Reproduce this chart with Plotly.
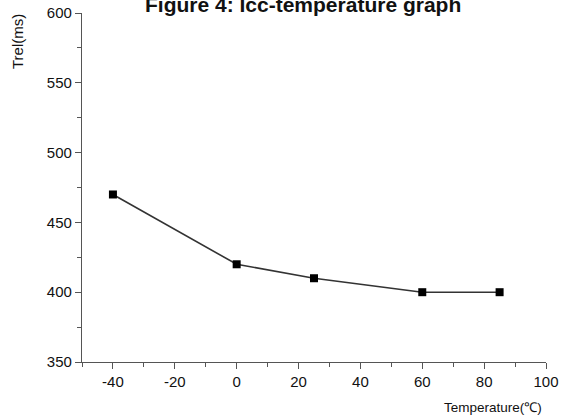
import plotly.graph_objects as go

temps = [-40, 0, 25, 60, 85]
trel = [470, 420, 410, 400, 400]
x_ticks = [-40, -20, 0, 20, 40, 60, 80, 100]
x_tick_labels = ["-40", "-20", "0", "20", "40", "60", "80", "100"]
y_ticks = [350, 400, 450, 500, 550, 600]

W, H = 567, 420
L, R, T, B = 82, 21, 13, 58
PW, PH = W - L - R, H - T - B


def px(x):
    return (x - L) / PW


def py(y):
    return (H - B - y) / PH


fig = go.Figure()
fig.add_trace(go.Scatter(
    x=temps, y=trel, mode="lines+markers",
    line=dict(color="#333333", width=1.6),
    marker=dict(symbol="square", size=8, color="black"),
    showlegend=False,
))

axis_common = dict(
    showgrid=False, zeroline=False, showline=True, linecolor="#555555", linewidth=1.2,
    ticks="outside", ticklen=6, tickcolor="#555555", tickwidth=1.2, automargin=False,
    tickfont=dict(family="Liberation Sans, Arial", size=15, color="#111111"),
)

fig.update_xaxes(range=[-50, 100], tickvals=x_ticks, ticktext=x_tick_labels,
                 minor=dict(dtick=10, ticks="outside", ticklen=4, tickcolor="#555555", tickwidth=1),
                 **axis_common)
fig.update_yaxes(range=[350, 600], tickvals=y_ticks,
                 minor=dict(dtick=25, ticks="outside", ticklen=4, tickcolor="#555555", tickwidth=1),
                 **axis_common)

fig.update_layout(
    width=W, height=H,
    margin=dict(l=L, r=R, t=T, b=B, autoexpand=False),
    paper_bgcolor="white", plot_bgcolor="white",
    annotations=[
        dict(text="<b>Figure 4: Icc-temperature graph</b>", xref="paper", yref="paper",
             x=px(303), y=py(4), xanchor="center", yanchor="middle",
             showarrow=False, font=dict(family="Liberation Sans, Arial", size=21, color="#111111")),
        dict(text="Trel(ms)", xref="paper", yref="paper", textangle=-90,
             x=px(18), y=py(42), xanchor="center", yanchor="middle",
             showarrow=False, font=dict(family="Liberation Sans, Arial", size=15, color="#111111")),
        dict(text="Temperature(℃)", xref="paper", yref="paper",
             x=px(493), y=py(407), xanchor="center", yanchor="middle",
             showarrow=False, font=dict(family="Liberation Sans, Arial", size=13.5, color="#111111")),
    ],
)

fig.write_html("out.html", config={"displayModeBar": False},
               post_script="document.body.style.margin='0';")
